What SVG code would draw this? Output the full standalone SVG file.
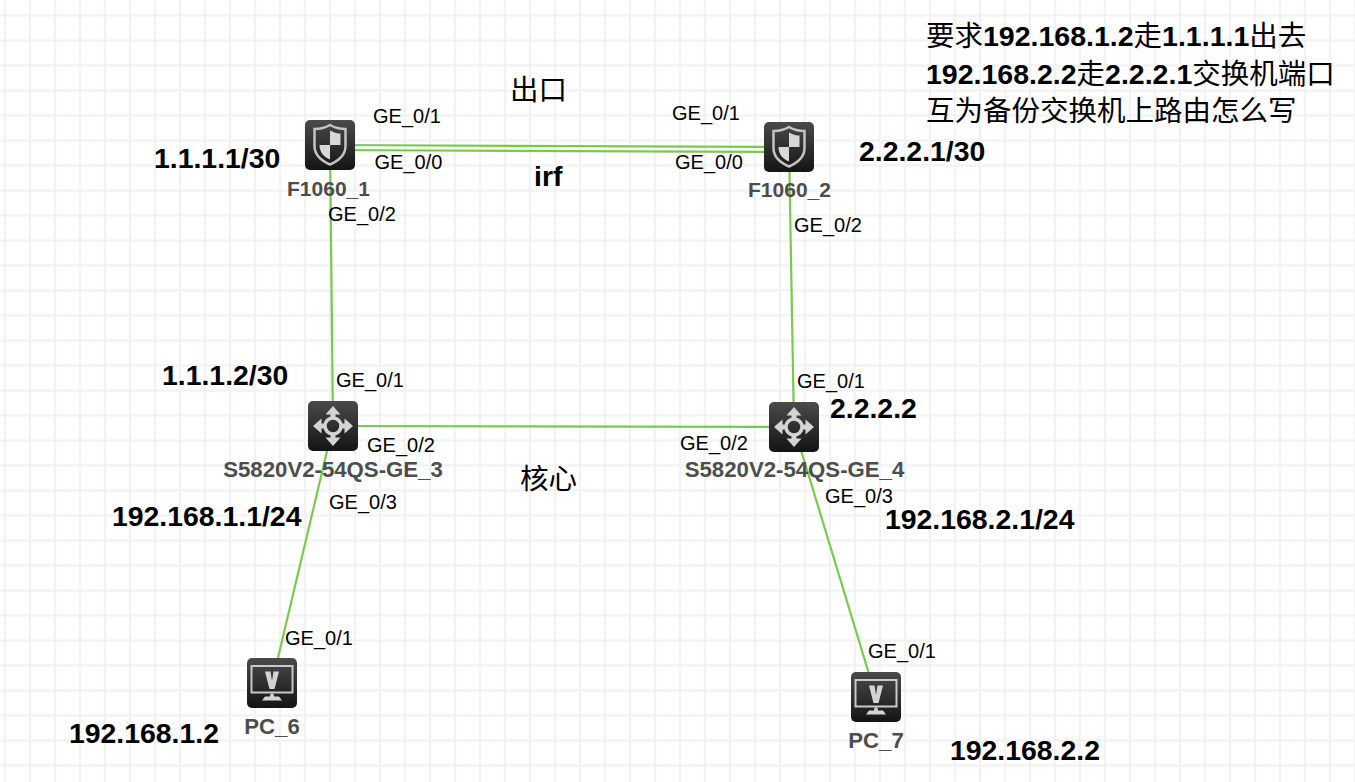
<svg xmlns="http://www.w3.org/2000/svg" width="1355" height="782" viewBox="0 0 1355 782">
<style>
.ge{font:20px "Liberation Sans",sans-serif;fill:#000}
.nm{font:bold 22.200px "Liberation Sans",sans-serif;fill:#4d4d4d;text-anchor:middle}
.nf{font-size:21px}
.ip{font:bold 28.400px "Liberation Sans",sans-serif;fill:#000}
.cn{font:28.500px "Liberation Serif","Noto Sans CJK SC",serif;fill:#000}
.cn tspan.b{font-family:"Liberation Sans",sans-serif;font-weight:bold}
.link{stroke:#7ac94f;stroke-width:2.200;fill:none}
.glyph{fill:#d4d4d4}
</style>
<defs>
<pattern id="grid" width="25" height="25" patternUnits="userSpaceOnUse" x="-8" y="2.5">
<path d="M13 0V25M0 13H25" stroke="#f2f2f2" stroke-width="2.400" fill="none"/>
</pattern>
<linearGradient id="iconbg" x1="0" y1="0" x2="0" y2="1"><stop offset="0" stop-color="#4a4a4a"/><stop offset="1" stop-color="#141414"/></linearGradient>
<g id="fw">
<rect width="50" height="50" rx="5" fill="url(#iconbg)"/>
<path d="M25 5C31 8.500 36 9 40.500 9V26C40.500 35 33 41 25 44.500C17 41 9.500 35 9.500 26V9C14 9 19 8.500 25 5Z" fill="none" stroke="#c4c4c4" stroke-width="2.500"/>
<path d="M25 10.500C29.500 13 33 13.500 35.500 13.500V25H25ZM25 25V39.500C19 37 14.500 32.500 14.500 25Z" fill="#d8d8d8"/>
</g>
<g id="sw">
<rect width="50" height="50" rx="5" fill="url(#iconbg)"/>
<circle cx="25" cy="25" r="8" fill="none" stroke="#d4d4d4" stroke-width="3.500"/>
<path class="glyph" d="M25 5L32.500 13.500H27.500V16H22.500V13.500H17.500ZM25 45L17.500 36.500H22.500V34H27.500V36.500H32.500ZM5 25L13.500 17.500V22.500H16V27.500H13.500V32.500ZM45 25L36.500 32.500V27.500H34V22.500H36.500V17.500Z"/>
</g>
<g id="pc">
<rect width="50" height="50" rx="5" fill="url(#iconbg)"/>
<rect x="4.500" y="8" width="41" height="26.500" fill="none" stroke="#c8c8c8" stroke-width="2"/>
<path class="glyph" d="M18 13.500H23.500L25 23L26.500 13.500H32L27.500 31H22.500ZM23.500 35.500H26.500L27 38.500H32L35 42.500H15L18 38.500H23Z"/>
</g>
</defs>
<rect width="1355" height="782" fill="#fff"/>
<rect width="1355" height="782" fill="url(#grid)"/>
<g id="connectors">
<path class="link" d="M330 145L789 147"/>
<path class="link" d="M330 150L789 152"/>
<path class="link" d="M330 145L333 426"/>
<path class="link" d="M789 147L794 427"/>
<path class="link" d="M333 426L794 427"/>
<path class="link" d="M333 426L272 683"/>
<path class="link" d="M794 427L876 697"/>
</g>
<g id="F1060_1"><use href="#fw" x="305" y="120"/><text class="nm nf" x="328.500" y="196">F1060_1</text></g>
<g id="F1060_2"><use href="#fw" x="764" y="122"/><text class="nm nf" x="789.500" y="197">F1060_2</text></g>
<g id="S5820V2-54QS-GE_3"><use href="#sw" x="308" y="401"/><text class="nm" x="333" y="477">S5820V2-54QS-GE_3</text></g>
<g id="S5820V2-54QS-GE_4"><use href="#sw" x="769" y="402"/><text class="nm" x="794.500" y="477">S5820V2-54QS-GE_4</text></g>
<g id="PC_6"><use href="#pc" x="247" y="658"/><text class="nm" x="272" y="734">PC_6</text></g>
<g id="PC_7"><use href="#pc" x="851" y="672"/><text class="nm" x="876" y="748">PC_7</text></g>
<g id="port-labels">
<text class="ge" x="373" y="123">GE_0/1</text>
<text class="ge" x="374.500" y="169">GE_0/0</text>
<text class="ge" x="328" y="221">GE_0/2</text>
<text class="ge" x="672" y="120">GE_0/1</text>
<text class="ge" x="675" y="169">GE_0/0</text>
<text class="ge" x="794" y="232">GE_0/2</text>
<text class="ge" x="336" y="387">GE_0/1</text>
<text class="ge" x="367" y="452">GE_0/2</text>
<text class="ge" x="329" y="509">GE_0/3</text>
<text class="ge" x="797" y="388">GE_0/1</text>
<text class="ge" x="680" y="450">GE_0/2</text>
<text class="ge" x="825" y="503">GE_0/3</text>
<text class="ge" x="285" y="645">GE_0/1</text>
<text class="ge" x="868" y="658">GE_0/1</text>
</g>
<g id="annotations">
<text class="cn" x="510" y="100">出口</text>
<text class="ip" x="534" y="186">irf</text>
<text class="cn" x="520" y="489">核心</text>
<text class="ip" x="154" y="168">1.1.1.1/30</text>
<text class="ip" x="859" y="161">2.2.2.1/30</text>
<text class="ip" x="162" y="385">1.1.1.2/30</text>
<text class="ip" x="830" y="418">2.2.2.2</text>
<text class="ip" x="112" y="526">192.168.1.1/24</text>
<text class="ip" x="885" y="529">192.168.2.1/24</text>
<text class="ip" x="69" y="743">192.168.1.2</text>
<text class="ip" x="950" y="760">192.168.2.2</text>
<text class="cn" x="926" y="46">要求<tspan class="b">192.168.1.2</tspan>走<tspan class="b">1.1.1.1</tspan>出去</text>
<text class="cn" x="926" y="84"><tspan class="b">192.168.2.2</tspan>走<tspan class="b">2.2.2.1</tspan>交换机端口</text>
<text class="cn" x="926" y="121">互为备份交换机上路由怎么写</text>
</g>
</svg>
